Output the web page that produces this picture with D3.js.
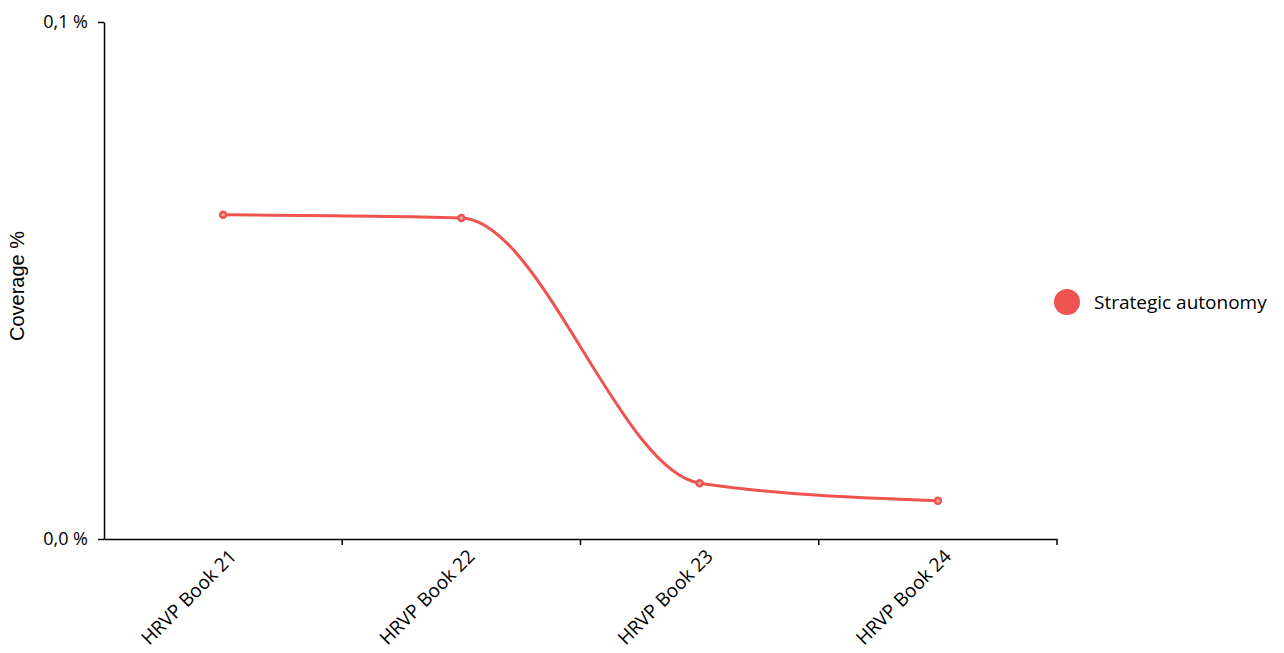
<!DOCTYPE html>
<html><head><meta charset="utf-8">
<script src="https://cdn.jsdelivr.net/npm/d3@7"></script>
<style>body{margin:0;background:#fff}</style>
</head><body>
<svg id="c" width="1284" height="653"></svg>
<script>
const categories = ["HRVP Book 21","HRVP Book 22","HRVP Book 23","HRVP Book 24"];
const values = [0.0627, 0.0621, 0.0108, 0.0074];
const seriesName = "Strategic autonomy";
const yTicks = [0, 0.1];
const color = "#ef5350";
const font = "'Open Sans', 'Noto Sans', sans-serif";

const svg = d3.select("#c");
const m = {left:104, top:22, right:227, bottom:114};
const W = 1284 - m.left - m.right, H = 653 - m.top - m.bottom;
const g = svg.append("g").attr("transform",`translate(${m.left},${m.top})`);

const x = d3.scaleBand().domain(categories).range([0,W]);
const y = d3.scaleLinear().domain([0,0.1]).range([H,0]);

const xa = g.append("g").attr("transform",`translate(0,${H})`)
  .call(d3.axisBottom(x).tickSizeOuter(0).tickFormat(""));
xa.selectAll(".tick").remove();
const bounds = categories.map(c=>x(c)).concat([W]).slice(1);
xa.selectAll(".bt").data(bounds).enter().append("line")
  .attr("x1",d=>d).attr("x2",d=>d).attr("y1",0).attr("y2",6)
  .attr("stroke","#000").attr("stroke-width",1.5);
xa.select(".domain").attr("stroke-width",1.5);
xa.selectAll(".lbl").data(categories).enter().append("text")
  .attr("transform",d=>`translate(${x(d)+x.bandwidth()/2+5},${9}) rotate(-45)`)
  .attr("text-anchor","end").attr("dy","0.71em")
  .style("font-family",font).style("font-size","19px").attr("fill","#000")
  .text(d=>d);

const ya = g.append("g").call(d3.axisLeft(y).tickValues(yTicks).tickSizeOuter(0).tickPadding(10)
  .tickFormat(d=>d3.format(".1f")(d).replace(".",",")+" %"));
ya.select(".domain").attr("stroke-width",1.5);
ya.selectAll(".tick line").attr("stroke-width",1.5);
ya.selectAll(".tick text").style("font-family",font).style("font-size","18px").attr("fill","#000");

svg.append("text").attr("transform",`translate(24,286) rotate(-90)`)
  .attr("text-anchor","middle").style("font-family","'Liberation Sans', Arial, sans-serif")
  .style("font-size","20px").text("Coverage %");

const line = d3.line().x((d,i)=>x(categories[i])+x.bandwidth()/2).y(d=>y(d)).curve(d3.curveMonotoneX);
g.append("path").datum(values).attr("d",line).attr("fill","none")
  .attr("stroke",color).attr("stroke-width",3);
g.selectAll(".pt").data(values).enter().append("circle")
  .attr("cx",(d,i)=>x(categories[i])+x.bandwidth()/2).attr("cy",d=>y(d)).attr("r",3)
  .attr("fill","#f8a8a6").attr("stroke",color).attr("stroke-width",2.5);

const lg = svg.append("g").attr("transform","translate(1067,302)");
lg.append("circle").attr("r",13).attr("fill",color);
lg.append("text").attr("x",27).attr("dy","0.35em").style("font-family",font)
  .style("font-size","19px").text(seriesName);
</script>
</body></html>
